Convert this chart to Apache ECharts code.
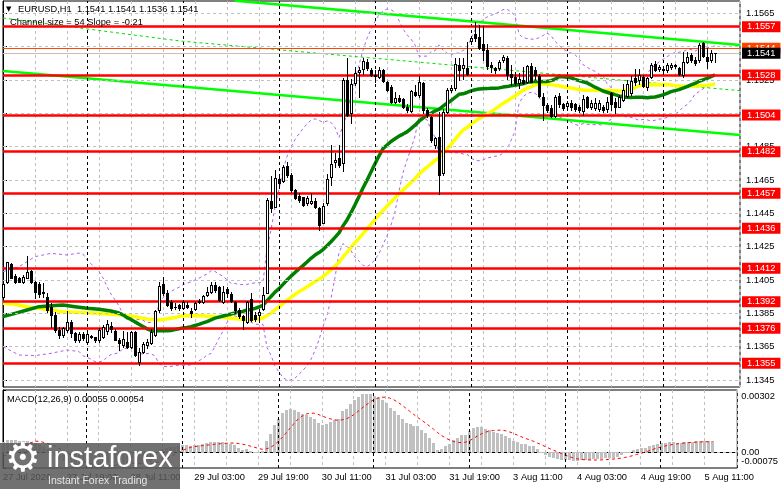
<!DOCTYPE html>
<html><head><meta charset="utf-8">
<script src="https://cdn.jsdelivr.net/npm/echarts@6/dist/echarts.min.js"></script>
<style>html,body{margin:0;padding:0;background:#fff;}#c{width:781px;height:489px;}</style>
</head><body><div id="c"></div>
<script>
// ---- data (EURUSD H1, bars from 27 Jul 2026 03:00) ----
const opens = [
1.1395,1.14036,1.14144,1.14076,1.1406,1.14036,1.14064,1.14104,1.1404,1.14024,
1.1398,1.1395,1.1389,1.1384,1.1375,1.1372,1.1375,1.138,1.1373,1.1369,
1.13724,1.1368,1.13714,1.1371,1.1369,1.1371,1.13744,1.13776,1.13744,1.1369,
1.1366,1.1368,1.1365,1.1374,1.1356,1.1362,1.1366,1.1367,1.1372,1.1387,
1.14024,1.1397,1.1392,1.1389,1.139,1.1388,1.139,1.13866,1.13874,1.1392,
1.1392,1.1396,1.1398,1.1402,1.1401,1.1392,1.13994,1.13964,1.1392,1.1387,
1.13834,1.138,1.13934,1.1384,1.1384,1.13874,1.13974,1.14526,1.1449,1.14654,
1.14646,1.14734,1.1468,1.1459,1.14556,1.14546,1.1451,1.14514,1.14526,1.1448,
1.14394,1.1451,1.1467,1.1476,1.1478,1.1475,1.1525,1.1505,1.1523,1.153,
1.15314,1.1536,1.1531,1.15274,1.1527,1.1531,1.1524,1.1521,1.15116,1.1514,
1.15136,1.1509,1.15064,1.1518,1.1516,1.1523,1.1507,1.1503,1.1486,1.1491,
1.1469,1.1506,1.1519,1.152,1.1534,1.1532,1.1532,1.15484,1.15524,1.1551,
1.15464,1.1543,1.1534,1.1532,1.1532,1.1537,1.1538,1.15284,1.1527,1.1523,
1.1525,1.1524,1.15336,1.1531,1.15276,1.1515,1.151,1.15084,1.15034,1.15154,
1.15106,1.15094,1.1511,1.15106,1.1509,1.15066,1.15146,1.1509,1.1508,1.15074,
1.1509,1.15074,1.1517,1.1512,1.1509,1.1513,1.15154,1.1517,1.1526,1.1525,
1.1527,1.15206,1.1527,1.15344,1.15314,1.1531,1.1531,1.15326,1.1534,1.1532,
1.1528,1.1536,1.154,1.1537,1.1537,1.1547,1.15386,1.1537,1.1541];
const highs = [
1.1403,1.1416,1.1415,1.14084,1.1407,1.1408,1.14194,1.1411,1.14044,1.1404,
1.1403,1.1397,1.1391,1.1386,1.1377,1.1377,1.13864,1.1381,1.1374,1.1374,
1.1374,1.1373,1.1372,1.1371,1.1376,1.1378,1.1381,1.138,1.13756,1.137,
1.13744,1.1374,1.13744,1.13744,1.13644,1.1368,1.13696,1.13754,1.1387,1.14036,
1.1407,1.1399,1.1393,1.1391,1.13904,1.1393,1.1392,1.1388,1.1392,1.13938,
1.1396,1.1401,1.1404,1.1404,1.14014,1.14014,1.1401,1.1398,1.13926,1.1388,
1.1384,1.13926,1.1397,1.1386,1.13874,1.14006,1.1454,1.14674,1.1471,1.1467,
1.1474,1.1476,1.1469,1.14594,1.1457,1.1455,1.14554,1.14574,1.1454,1.1449,
1.1451,1.14686,1.1486,1.1481,1.1486,1.1526,1.1538,1.15254,1.1533,1.15326,
1.1538,1.15374,1.15324,1.1531,1.1533,1.15316,1.15244,1.1522,1.15176,1.1516,
1.15144,1.15104,1.1519,1.1522,1.15276,1.15236,1.1508,1.15036,1.1491,1.1506,
1.15076,1.152,1.1522,1.15384,1.1538,1.1538,1.15476,1.15516,1.156,1.1558,
1.15576,1.15464,1.15356,1.1533,1.1537,1.154,1.15396,1.1534,1.153,1.1529,
1.1533,1.1534,1.1535,1.1533,1.15284,1.1517,1.1511,1.151,1.1516,1.1517,
1.15114,1.15126,1.1513,1.15114,1.151,1.1516,1.15154,1.1513,1.1514,1.1513,
1.151,1.15146,1.1518,1.1514,1.1516,1.15226,1.1525,1.15274,1.15314,1.15314,
1.1528,1.1527,1.1535,1.15366,1.1534,1.1533,1.1535,1.1535,1.15346,1.1533,
1.1542,1.1542,1.15414,1.1539,1.1547,1.1548,1.1544,1.1543,1.1541];
const lows = [
1.1394,1.1403,1.1406,1.1403,1.14036,1.1403,1.1406,1.1403,1.13944,1.1395,
1.1395,1.1386,1.1377,1.1374,1.137,1.1371,1.1374,1.1371,1.1368,1.1368,
1.1369,1.1367,1.137,1.1368,1.1368,1.137,1.13724,1.1374,1.1369,1.1363,
1.1365,1.1364,1.13644,1.13596,1.1354,1.1361,1.13644,1.13664,1.13714,1.13856,
1.1396,1.13896,1.1387,1.13876,1.1387,1.13876,1.1388,1.1383,1.1387,1.13914,
1.13914,1.13954,1.1397,1.1398,1.13926,1.13914,1.1395,1.1392,1.13854,1.1382,
1.13754,1.13794,1.13806,1.13806,1.138,1.1387,1.1397,1.1446,1.14486,1.1462,
1.1464,1.1467,1.1458,1.14534,1.1452,1.14494,1.145,1.14506,1.1448,1.1435,
1.1439,1.145,1.1462,1.14726,1.1473,1.14706,1.15034,1.1499,1.1522,1.1515,
1.15286,1.1531,1.15276,1.15236,1.15264,1.15236,1.15184,1.1511,1.1511,1.15116,
1.15084,1.15056,1.1506,1.15156,1.1515,1.1505,1.1503,1.1488,1.14844,1.14564,
1.1468,1.1505,1.15176,1.1519,1.1525,1.15256,1.1528,1.1547,1.15484,1.15436,
1.1537,1.15316,1.153,1.1529,1.1531,1.1536,1.15256,1.1522,1.1522,1.152,
1.15224,1.1523,1.15236,1.15256,1.1515,1.1501,1.1506,1.1503,1.15026,1.1509,
1.1507,1.1507,1.1507,1.15066,1.1506,1.1504,1.1508,1.15074,1.1507,1.15066,
1.1506,1.1506,1.1507,1.1505,1.15086,1.15126,1.15146,1.1516,1.1522,1.15226,
1.15206,1.1519,1.15264,1.15306,1.15306,1.15286,1.153,1.15314,1.1532,1.1528,
1.1527,1.15354,1.1536,1.1534,1.1536,1.1539,1.1532,1.1536,1.1536];
const closes = [
1.14024,1.14156,1.14064,1.14036,1.1404,1.1407,1.14096,1.1404,1.1398,1.13964,
1.1397,1.1387,1.1384,1.1375,1.1372,1.1376,1.138,1.1373,1.1369,1.13724,
1.137,1.13724,1.1371,1.1369,1.1375,1.1377,1.13784,1.13754,1.1369,1.1367,
1.13694,1.13646,1.13736,1.136,1.1362,1.13664,1.1368,1.1374,1.13864,1.14014,
1.1397,1.139,1.1388,1.13888,1.1388,1.13916,1.1389,1.1385,1.13914,1.13924,
1.13954,1.1398,1.1402,1.1399,1.1393,1.1398,1.1397,1.13926,1.1387,1.13834,
1.1381,1.1392,1.1381,1.13814,1.1386,1.1396,1.1453,1.1448,1.14664,1.14634,
1.1473,1.1468,1.1459,1.14544,1.1453,1.145,1.1454,1.14524,1.1449,1.1438,
1.14494,1.14656,1.14746,1.1477,1.1474,1.1525,1.1504,1.15226,1.15294,1.1531,
1.15366,1.1532,1.1528,1.1528,1.1531,1.15244,1.1519,1.15116,1.1514,1.15126,
1.1509,1.1507,1.15184,1.1516,1.1524,1.1507,1.1504,1.1489,1.149,1.1468,
1.1506,1.1519,1.152,1.15344,1.1531,1.1534,1.15284,1.15504,1.155,1.1544,
1.1543,1.15336,1.1533,1.1531,1.1536,1.15386,1.1528,1.1527,1.1523,1.15256,
1.1523,1.15336,1.1524,1.1528,1.15156,1.151,1.1507,1.15036,1.1515,1.15106,
1.1508,1.15114,1.1509,1.15074,1.1507,1.15134,1.1509,1.15114,1.1511,1.1511,
1.1507,1.1512,1.15106,1.1509,1.15146,1.1519,1.15226,1.15246,1.1524,1.1528,
1.15214,1.1526,1.1534,1.1531,1.1533,1.15314,1.1534,1.1534,1.15336,1.15286,
1.1536,1.15386,1.1537,1.15354,1.1546,1.15394,1.15366,1.1541,1.1541];

const labelBars = [0,16,32,48,64,80,96,112,128,144,160,176];
const labelTexts = ['27 Jul 2026','27 Jul 19:00','28 Jul 11:00','29 Jul 03:00','29 Jul 19:00','30 Jul 11:00',
  '31 Jul 03:00','31 Jul 19:00','3 Aug 11:00','4 Aug 03:00','4 Aug 19:00','5 Aug 11:00'];
const dayStarts = [21,45,69,93,117,141,165];
const priceTicks = [1.1345,1.1365,1.1385,1.1405,1.1425,1.1445,1.1465,1.1485,1.1505,1.1525,1.1545,1.1565];
const levels = [1.1557,1.1528,1.1504,1.1482,1.1457,1.1436,1.1412,1.1392,1.1376,1.1355];
const bidPrice = 1.1541;
const channelPrice = 1.1544;
const channelUpper = [[58,1.15726],[184.25,1.1546]];
const channelLower = [[0,1.15304],[184.25,1.1492]];
const channelMid = [[0,1.15622],[44.25,1.15484],[184.25,1.15186]];
// indicator values read where the averaging window reaches back before the first bar
const ma30Early = [[0,1.1383],[3,1.1385],[6,1.1387],[9,1.1389],[12,1.13896],[15,1.139],[18,1.1389],[21,1.1388],[24,1.13874],[27,1.13864]];
const ma50Early = [[0,1.1391],[3,1.13904],[6,1.1389],[9,1.1388],[12,1.1387],[15,1.1386],[18,1.13856],[21,1.13854],[24,1.1385],[27,1.13844],[30,1.1384],[33,1.1383],[36,1.13816],[39,1.1381],[42,1.1382],[45,1.13836]];
const bbUpperEarly = [[0,1.141],[4,1.1413],[8,1.1419],[12,1.1421],[16,1.142]];
const bbLowerEarly = [[0,1.1365],[4,1.136],[8,1.13596],[12,1.1361],[16,1.1363]];
const macdSeed = [1.1397, 1.1392, -0.0003]; // ema12, ema26, signal before first bar
const macdTicks = [-0.00075, 0, 0.00302];

// ---- indicators from the closes ----
function sma(n, early, startAt) {
  const out = early.slice();
  for (let i = n - 1; i < closes.length; i++) {
    if (i < startAt) continue;
    let s = 0; for (let k = i - n + 1; k <= i; k++) s += closes[k];
    out.push([i, s / n]);
  }
  return out;
}
const ma30 = sma(30, ma30Early, 29);
const ma50 = sma(50, ma50Early, 49);
const bbU = bbUpperEarly.slice(), bbL = bbLowerEarly.slice();
for (let i = 19; i < closes.length; i++) {
  let s = 0; for (let k = i - 19; k <= i; k++) s += closes[k];
  const m = s / 20; let v = 0;
  for (let k = i - 19; k <= i; k++) v += (closes[k] - m) * (closes[k] - m);
  const sd = Math.sqrt(v / 20);
  bbU.push([i, m + 2 * sd]); bbL.push([i, m - 2 * sd]);
}
let e12 = macdSeed[0], e26 = macdSeed[1];
const macd = [], signal = [];
closes.forEach((c, i) => {
  e12 += (c - e12) * 2 / 13; e26 += (c - e26) * 2 / 27;
  macd.push(e12 - e26);
  let s = 0, cnt = 0;
  for (let k = i - 8; k <= i; k++) { s += k < 0 ? macdSeed[2] : macd[k]; cnt++; }
  signal.push([i, s / cnt]);
});

const candleData = opens.map((o, i) => [i, o, closes[i], lows[i], highs[i]]);
const histData = macd.map((v, i) => [i, v]);

function renderCandle(params, api) {
  const i = api.value(0);
  const pO = api.coord([i, api.value(1)]), pC = api.coord([i, api.value(2)]);
  const pL = api.coord([i, api.value(3)]), pH = api.coord([i, api.value(4)]);
  const x = Math.round(pO[0]);
  const yO = Math.round(pO[1]), yC = Math.round(pC[1]), yH = Math.round(pH[1]), yL = Math.round(pL[1]);
  const top = Math.min(yO, yC), bot = Math.max(yO, yC);
  const ch = [
    {type:'rect', shape:{x:x, y:yH, width:1, height:Math.max(1, yL - yH + 1)}, style:{fill:'#000'}},
    {type:'rect', shape:{x:x - 1, y:top, width:3, height:bot - top + 1}, style:{fill:'#000'}}
  ];
  if (api.value(2) > api.value(1) && bot - top >= 2)
    ch.push({type:'rect', shape:{x:x, y:top + 1, width:1, height:bot - top - 1}, style:{fill:'#fff'}});
  return {type:'group', children:ch};
}
function renderHist(params, api) {
  const p = api.coord([api.value(0), api.value(1)]);
  const z = api.coord([api.value(0), 0]);
  const x = Math.round(p[0]);
  const y1 = Math.round(Math.min(p[1], z[1])), y2 = Math.round(Math.max(p[1], z[1]));
  return {type:'rect', shape:{x:x - 1, y:y1, width:3, height:Math.max(1, y2 - y1)}, style:{fill:'#c0c0c0'}};
}

const FONT = 'Liberation Sans';
const FS = 9.3;
const gridLine = {color:'#c0c0c0', type:[3,3], width:1};
const dayLine = {color:'#000', type:[3,3], width:1};
const lvlLabel = (bg) => ({show:true, position:'end', distance:2, formatter:p => Number(p.value).toFixed(4),
  backgroundColor:bg, color:'#fff', padding:[1,5,0,5], lineHeight:10, fontSize:FS, fontFamily:FONT});

const chart = echarts.init(document.getElementById('c'), null, {renderer:'canvas'});
chart.setOption({
  animation:false,
  backgroundColor:'#fff',
  textStyle:{fontFamily:FONT},
  grid:[
    {left:3, right:41, top:1, height:386, show:true, borderColor:'#000', borderWidth:1, backgroundColor:'transparent'},
    {left:3, right:41, top:390, height:78, show:true, borderColor:'#000', borderWidth:1, backgroundColor:'transparent'}
  ],
  xAxis:[
    {type:'value', gridIndex:0, min:0, max:184.25, interval:8, axisLabel:{show:false}, axisTick:{show:false},
     axisLine:{show:false}, splitLine:{show:true, lineStyle:gridLine}},
    {type:'value', gridIndex:1, min:0, max:184.25, interval:8, axisTick:{show:false},
     axisLine:{show:true, lineStyle:{color:'#000'}}, splitLine:{show:true, lineStyle:gridLine},
     axisLabel:{show:true, customValues:labelBars, align:'left', margin:5, fontSize:FS, fontFamily:FONT, color:'#000',
       formatter:v => labelTexts[labelBars.indexOf(Math.round(v))] || ''}}
  ],
  yAxis:[
    {type:'value', gridIndex:0, position:'right', min:1.13408, max:1.15724, scale:true,
     splitLine:{show:false}, axisLine:{show:true, lineStyle:{color:'#000'}},
     axisTick:{show:true, customValues:priceTicks, length:4, lineStyle:{color:'#000'}},
     axisLabel:{customValues:priceTicks, formatter:v => v.toFixed(4), margin:6, fontSize:FS, fontFamily:FONT, color:'#000'}},
    {type:'value', gridIndex:1, position:'right', min:-0.00075, max:0.00302,
     splitLine:{show:false}, axisLine:{show:true, lineStyle:{color:'#000'}},
     axisTick:{show:true, customValues:macdTicks, length:3, lineStyle:{color:'#000'}},
     axisLabel:{customValues:macdTicks, margin:4, fontSize:FS, fontFamily:FONT, color:'#000',
       formatter:v => v > 0.001 ? '{t|' + v.toFixed(5) + '}' : (v < 0 ? '{b|' + v.toFixed(5) + '}' : v.toFixed(2)),
       rich:{t:{padding:[13,0,0,0], fontSize:FS, fontFamily:FONT, color:'#000'}, b:{padding:[0,0,13,0], fontSize:FS, fontFamily:FONT, color:'#000'}}}}
  ],
  series:[
    {type:'line', xAxisIndex:0, yAxisIndex:0, data:[], z:1, silent:true,
     markLine:{silent:true, symbol:'none', precision:6, label:{show:false},
       data:priceTicks.map(v => ({yAxis:v, lineStyle:gridLine})).concat(dayStarts.map(v => ({xAxis:v, lineStyle:dayLine})))}},
    {type:'line', xAxisIndex:0, yAxisIndex:0, data:bbU, showSymbol:false, z:2, lineStyle:{color:'#b060ec', width:1, type:[3,3]}},
    {type:'line', xAxisIndex:0, yAxisIndex:0, data:bbL, showSymbol:false, z:2, lineStyle:{color:'#b060ec', width:1, type:[3,3]}},
    {type:'line', xAxisIndex:0, yAxisIndex:0, data:channelMid, showSymbol:false, z:2, lineStyle:{color:'#00e000', width:1, type:[3,3]}},
    {type:'line', xAxisIndex:0, yAxisIndex:0, data:channelUpper, showSymbol:false, z:2, lineStyle:{color:'#00ff00', width:2.5}},
    {type:'line', xAxisIndex:0, yAxisIndex:0, data:channelLower, showSymbol:false, z:2, lineStyle:{color:'#00ff00', width:2.5}},
    {type:'line', xAxisIndex:0, yAxisIndex:0, data:ma50, showSymbol:false, z:3, lineStyle:{color:'#ffff00', width:3.5}},
    {type:'line', xAxisIndex:0, yAxisIndex:0, data:ma30, showSymbol:false, z:3, lineStyle:{color:'#008000', width:3.5}},
    {type:'line', xAxisIndex:0, yAxisIndex:0, data:[], z:4, silent:true,
     markLine:{silent:true, symbol:'none', precision:6,
       data:[{yAxis:channelPrice, lineStyle:{color:'#ff4500', width:1, type:'solid'}, label:lvlLabel('#ff4500')}]}},
    {type:'line', xAxisIndex:0, yAxisIndex:0, data:[], z:5, silent:true,
     markLine:{silent:true, symbol:'none', precision:6,
       data:[{yAxis:bidPrice, lineStyle:{color:'#c0c0c0', width:1, type:'solid'}, label:lvlLabel('#000')}]}},
    {type:'line', xAxisIndex:0, yAxisIndex:0, data:[], z:6, silent:true,
     markLine:{silent:true, symbol:'none', precision:6,
       data:levels.map(v => ({yAxis:v, lineStyle:{color:'#ff0000', width:2.5, type:'solid'}, label:lvlLabel('#ff0000')}))}},
    {type:'custom', xAxisIndex:0, yAxisIndex:0, data:candleData, renderItem:renderCandle, z:8,
     encode:{x:0, y:[1,2,3,4]}},
    // MACD panel
    {type:'line', xAxisIndex:1, yAxisIndex:1, data:[], z:1, silent:true,
     markLine:{silent:true, symbol:'none', precision:6, label:{show:false},
       data:[{yAxis:0, lineStyle:gridLine}].concat(dayStarts.map(v => ({xAxis:v, lineStyle:dayLine})))}},
    {type:'custom', xAxisIndex:1, yAxisIndex:1, data:histData, renderItem:renderHist, z:3, encode:{x:0, y:1}},
    {type:'line', xAxisIndex:1, yAxisIndex:1, data:signal, showSymbol:false, z:4, lineStyle:{color:'#ff0000', width:1, type:[3,3]}}
  ],
  graphic:[
    {type:'text', left:6, top:6, z:20, style:{text:'▼', font:'7px "DejaVu Sans"', fill:'#000'}},
    {type:'text', left:18, top:5, z:20, style:{text:'EURUSD,H1  1.1541 1.1541 1.1536 1.1541', font:FS + 'px "' + FONT + '"', fill:'#000'}},
    {type:'text', left:10, top:18, z:20, style:{text:'Channel size = 54 Slope = -0.21', font:FS + 'px "' + FONT + '"', fill:'#000'}},
    {type:'text', left:7, top:395, z:20, style:{text:'MACD(12,26,9) 0.00055 0.00054', font:FS + 'px "' + FONT + '"', fill:'#000'}},
    {type:'rect', left:0, top:443, z:30, shape:{width:180, height:46}, style:{fill:'rgba(88,88,88,0.85)'}},
    {type:'text', left:5, top:441, z:31, style:{text:'⚙', font:'40px "DejaVu Sans"', fill:'#ffffff'}},
    {type:'text', left:47, top:444, z:31, style:{text:'instaforex', font:'29px "Liberation Sans"', fill:'#ffffff'}},
    {type:'text', left:48, top:476, z:31, style:{text:'Instant Forex Trading', font:'10.5px "Liberation Sans"', fill:'#e6e6e6'}}
  ]
});
</script></body></html>
